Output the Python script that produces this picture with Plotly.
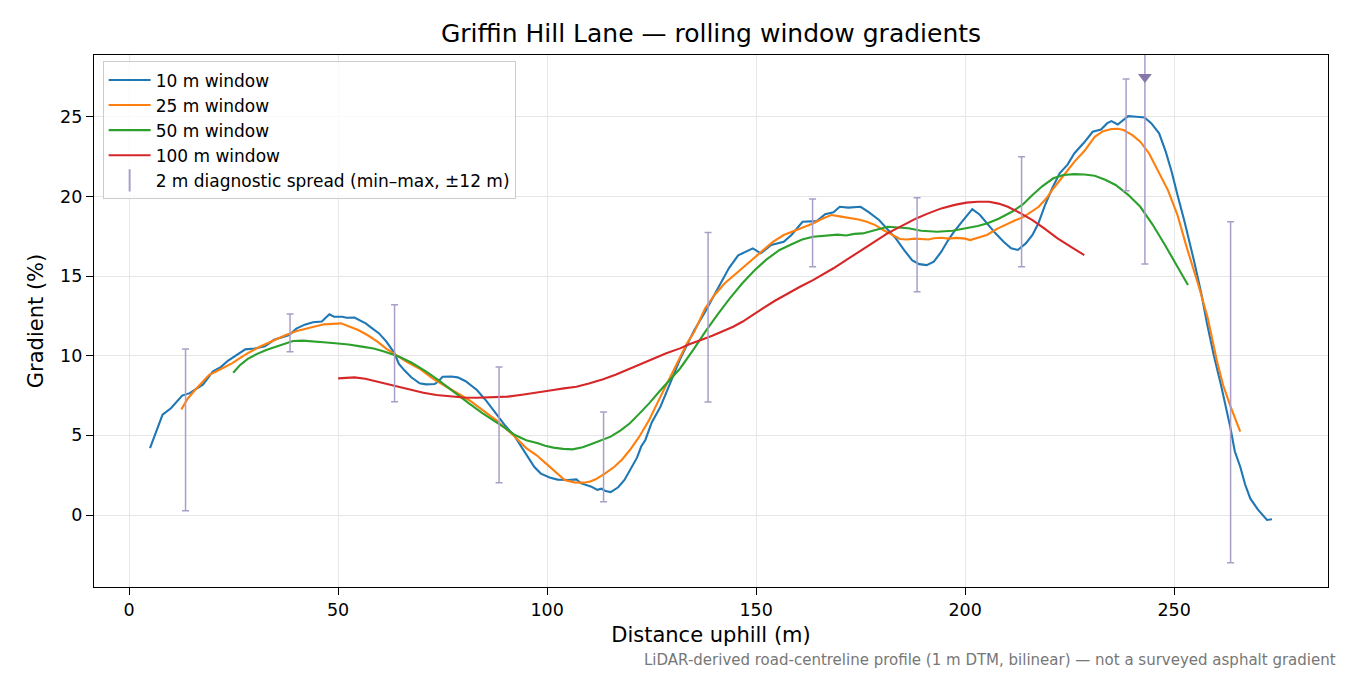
import plotly.graph_objects as go

# 10 m window
w10_x = [5, 6.5, 8, 10, 12.7, 14.5, 16, 17.7, 20, 22, 23.7, 26, 27.8, 30, 32.5, 34.7, 38.3, 40, 42, 44,
         46.1, 47.9, 49, 51, 52, 53.9, 55, 56.6, 58, 59.8, 61.5, 63.5, 64.5, 65.8, 67.5, 69.5, 71, 73.1, 74, 75,
         77, 78.6, 80.5, 83.2, 85.5, 87.8, 90, 92.3, 94.5, 96.9, 98.5, 100.6, 102.5, 105, 107, 108, 110.6, 112, 113, 114,
         115.2, 117, 118.5, 119.8, 121.5, 122.5, 123.5, 125, 127.1, 129, 131.7, 133.5, 135.2, 137.8, 139.5, 141.7, 143.5, 145.7, 147.5, 149.2,
         151.1, 153.6, 156.6, 158.5, 161.1, 164.5, 166.5, 168.5, 170, 172, 175, 177, 179.4, 181.5, 183.4, 185.5, 187.3, 189, 190.8, 192.5,
         194.3, 195.8, 197.3, 199.5, 201.7, 203.5, 205.2, 207.2, 209.2, 211, 212.6, 214.5, 216.1, 217.5, 219.1, 220.8, 222.6, 224.5, 226.1, 228.5,
         230.5, 232.5, 234, 235, 236.5, 237.5, 239, 241, 242.9, 244.5, 246.4, 248, 249.4, 250.8, 252.5, 254.8, 256.5, 257.8, 259.5, 261.2,
         263.4, 264.5, 265.8, 267, 268.2, 270, 272.2, 273.4]
w10_y = [4.2, 5.3, 6.3, 6.7, 7.5, 7.65, 7.9, 8.2, 9.0, 9.3, 9.7, 10.1, 10.4, 10.45, 10.6, 11.0, 11.3, 11.7, 11.95, 12.1,
         12.15, 12.6, 12.45, 12.45, 12.38, 12.4, 12.25, 12.03, 11.75, 11.4, 10.9, 10.15, 9.5, 9.1, 8.65, 8.27, 8.2, 8.22, 8.4, 8.68,
         8.7, 8.64, 8.4, 7.85, 7.15, 6.38, 5.6, 4.92, 4.0, 3.03, 2.6, 2.35, 2.22, 2.2, 2.24, 2.0, 1.78, 1.58, 1.65, 1.5,
         1.44, 1.74, 2.2, 2.82, 3.6, 4.3, 4.71, 5.8, 6.8, 8.0, 9.73, 10.7, 11.6, 12.76, 13.6, 14.65, 15.5, 16.3, 16.55, 16.74,
         16.43, 16.95, 17.16, 17.6, 18.41, 18.45, 18.88, 19.0, 19.35, 19.3, 19.35, 19.0, 18.52, 17.95, 17.37, 16.6, 16.0, 15.75, 15.69, 15.9,
         16.53, 17.2, 17.78, 18.5, 19.2, 18.85, 18.3, 17.7, 17.16, 16.75, 16.64, 17.05, 17.58, 18.3, 19.46, 20.5, 21.45, 22.0, 22.7, 23.4,
         24.06, 24.2, 24.6, 24.73, 24.52, 24.75, 25.04, 25.0, 24.96, 24.6, 23.96, 22.8, 21.55, 20.09, 18.4, 15.9, 13.9, 12.1, 10.0, 8.16,
         5.55, 4.0, 3.03, 1.9, 1.04, 0.35, -0.31, -0.27]

# 25 m window
w25_x = [12.5, 14, 15.4, 17, 19.1, 21.5, 24.6, 26.5, 28.3, 31.5, 34.7, 37.5, 40.1, 43, 46.6, 50.7, 52.5, 54.8, 57, 59.4,
         61.5, 63.9, 66.5, 69.4, 72.5, 75.9, 78.5, 81.3, 84.5, 87.8, 90, 92.3, 95, 97.5, 99.7, 102, 104.2, 106.5, 108.8, 110.3,
         111.6, 113.8, 116.1, 118, 119.8, 122, 124.4, 126.5, 129, 131.8, 133.5, 135.2, 137.8, 140, 142.5, 145.7, 148.5, 151.6, 154, 156.6,
         160, 163.6, 165.8, 168, 170, 172.5, 174.5, 176.5, 178.5, 180.4, 182.5, 184.4, 186, 188, 191.3, 192.5, 194.3, 196, 198, 200,
         201.2, 203, 205.2, 207.5, 210.2, 212, 214.1, 216, 217.6, 219.5, 221.1, 223.5, 226.1, 228.5, 231, 233, 235, 236.5, 237.9, 240,
         241.9, 244, 245.9, 248.5, 250.8, 253, 255.8, 258, 260.2, 261.7, 263.5, 265.8]
w25_y = [6.63, 7.3, 7.74, 8.2, 8.79, 9.1, 9.52, 9.85, 10.15, 10.6, 10.99, 11.3, 11.55, 11.75, 11.97, 12.03, 11.85, 11.61, 11.3, 10.88,
         10.45, 10.04, 9.6, 9.2, 8.6, 8.05, 7.65, 7.22, 6.6, 5.96, 5.45, 4.92, 4.2, 3.75, 3.24, 2.7, 2.2, 2.05, 2.03, 2.1,
         2.24, 2.6, 3.03, 3.5, 4.08, 4.9, 5.96, 7.1, 8.47, 9.9, 10.8, 11.5, 12.98, 13.8, 14.55, 15.27, 15.9, 16.64, 17.15, 17.58,
         17.95, 18.3, 18.6, 18.83, 18.75, 18.66, 18.55, 18.41, 18.2, 17.89, 17.6, 17.33, 17.3, 17.35, 17.3, 17.38, 17.41, 17.35, 17.4, 17.35,
         17.26, 17.4, 17.58, 17.95, 18.3, 18.5, 18.73, 19.05, 19.35, 19.9, 20.5, 21.3, 22.17, 22.85, 23.74, 24.1, 24.23, 24.25, 24.17, 23.85,
         23.44, 22.7, 21.76, 20.4, 18.83, 16.8, 14.44, 12.4, 9.7, 8.16, 6.8, 5.23]

# 50 m window
w50_x = [24.9, 26.5, 28.3, 30.5, 32.8, 36, 39.2, 41.5, 43.8, 46.5, 49.3, 52.5, 55.7, 58.5, 61.2, 64.5, 67.6, 70.8, 74, 77.5,
         81.3, 84.5, 87.8, 90, 92.3, 95, 97.8, 99.5, 101.5, 103.8, 106.1, 108.5, 110.6, 113, 115.2, 117.5, 119.8, 122, 124.4, 127,
         129.9, 131.8, 135.2, 137.8, 140.8, 143.7, 146.7, 149.7, 152.5, 155.6, 158.5, 161, 163.6, 167.5, 169.5, 171.5, 173.5, 175.5, 178.5, 181.4,
         184, 186.4, 189.5, 193.3, 197, 200.3, 203, 205.2, 208, 211.2, 213.8, 216.1, 218.5, 221.1, 223.5, 226.1, 228.5, 231, 233.5, 236,
         239, 241.9, 244.8, 247.8, 250.5, 253.3]
w50_y = [8.93, 9.4, 9.79, 10.1, 10.36, 10.65, 10.92, 10.95, 10.92, 10.85, 10.78, 10.7, 10.57, 10.45, 10.25, 9.95, 9.56, 9.05, 8.47, 7.75,
         7.01, 6.4, 5.86, 5.45, 5.02, 4.7, 4.5, 4.35, 4.23, 4.15, 4.12, 4.25, 4.46, 4.68, 4.92, 5.3, 5.76, 6.35, 7.01, 7.8,
         8.68, 9.2, 10.46, 11.5, 12.6, 13.6, 14.55, 15.38, 16.05, 16.64, 17.0, 17.3, 17.47, 17.55, 17.6, 17.55, 17.65, 17.68, 17.9, 18.1,
         18.05, 18.0, 17.85, 17.78, 17.85, 18.0, 18.15, 18.3, 18.6, 19.04, 19.5, 20.09, 20.65, 21.14, 21.35, 21.4, 21.38, 21.3, 21.05, 20.72,
         20.1, 19.35, 18.25, 16.95, 15.7, 14.44]

# 100 m window
w100_x = [50, 52, 53.9, 56.5, 59.4, 62, 64.9, 67.5, 70.4, 73.5, 76.8, 80, 83.2, 87, 90.5, 94, 96.9, 101.5, 104, 107,
          110, 113.4, 116.5, 119.8, 122.5, 125.3, 128.5, 131.8, 134, 136.8, 139.5, 142.7, 144.5, 146.7, 149, 151.6, 154.5, 157.6, 160.5, 163.6,
          166, 168.5, 171.5, 174.5, 178, 181.4, 185, 188.3, 191, 194.3, 197.5, 200.3, 203, 205.7, 208, 210.2, 213, 216.1, 219, 222.1,
          225.5, 228.5]
w100_y = [8.58, 8.62, 8.64, 8.55, 8.37, 8.2, 8.02, 7.85, 7.68, 7.53, 7.43, 7.38, 7.36, 7.38, 7.43, 7.55, 7.68, 7.85, 7.95, 8.05,
          8.25, 8.52, 8.82, 9.2, 9.5, 9.83, 10.15, 10.46, 10.72, 10.99, 11.25, 11.61, 11.82, 12.13, 12.55, 12.98, 13.45, 13.92, 14.33, 14.75,
          15.1, 15.49, 16.0, 16.53, 17.1, 17.68, 18.15, 18.62, 18.92, 19.25, 19.47, 19.61, 19.67, 19.67, 19.55, 19.35, 18.98, 18.52, 17.98, 17.37,
          16.8, 16.32]

# 2 m diagnostic spread (min-max within +-12 m)
spread_x = [13.5, 38.5, 63.5, 88.5, 113.5, 138.5, 163.5, 188.5, 213.5, 238.5, 243, 263.5]
spread_min = [0.27, 10.25, 7.11, 2.03, 0.84, 7.09, 15.59, 14.02, 15.59, 20.36, 15.76, -2.99]
spread_max = [10.42, 12.62, 13.2, 9.29, 6.47, 17.73, 19.84, 19.92, 22.49, 27.37, 31.0, 18.41]

# spread that runs off the top of the axis
clip_x = [243]
clip_y = [27.5]

FONT = "DejaVu Sans"
SPREAD_COL = "#aa9ec8"

fig = go.Figure()
series = [
    ("10 m window", w10_x, w10_y, "#1f77b4"),
    ("25 m window", w25_x, w25_y, "#ff7f0e"),
    ("50 m window", w50_x, w50_y, "#2ca02c"),
    ("100 m window", w100_x, w100_y, "#d62728"),
]
for name, xs, ys, col in series:
    fig.add_trace(go.Scatter(x=xs, y=ys, mode="lines", name=name,
                             line=dict(color=col, width=2.1)))

fig.add_trace(go.Scatter(
    x=spread_x, y=spread_min, mode="markers", showlegend=False,
    marker=dict(size=1, color="rgba(0,0,0,0)"),
    error_y=dict(type="data", symmetric=False,
                 array=[hi - lo for lo, hi in zip(spread_min, spread_max)],
                 arrayminus=[0] * len(spread_x),
                 color=SPREAD_COL, thickness=1.5, width=3.5)))

fig.add_trace(go.Scatter(
    x=clip_x, y=clip_y, mode="markers", showlegend=False,
    marker=dict(symbol="triangle-down", size=12, color="#8677aa")))

# legend entry for the spread bars
fig.add_trace(go.Scatter(
    x=[None], y=[None], mode="markers", name="2 m diagnostic spread (min–max, ±12 m)",
    marker=dict(symbol="line-ns", size=16, line=dict(color=SPREAD_COL, width=2))))

# page is shown with an 8 px body margin, so the figure is sized to fit
fig.update_layout(
    width=1342, height=667,
    margin=dict(l=86, r=22, t=47, b=88),
    paper_bgcolor="white", plot_bgcolor="white",
    font=dict(family=FONT, size=17.5, color="black"),
    title=dict(text="Griffin Hill Lane — rolling window gradients", x=0.5, xref="paper",
               y=1 - 25 / 667, yanchor="middle", font=dict(size=25)),
    legend=dict(x=0.007, y=0.988, xanchor="left", yanchor="top",
                bgcolor="rgba(255,255,255,0.8)", bordercolor="#cccccc", borderwidth=1,
                font=dict(size=17), tracegroupgap=0, itemwidth=42),
    showlegend=True,
)
fig.update_xaxes(range=[-8.4, 286.8], tickvals=[0, 50, 100, 150, 200, 250],
                 showgrid=True, gridcolor="#e6e6e6", gridwidth=1, zeroline=False,
                 showline=True, linecolor="black", linewidth=1.3, mirror=True,
                 ticks="outside", ticklen=7, tickcolor="black",
                 title=dict(text="Distance uphill (m)", standoff=8))
fig.update_yaxes(range=[-4.52, 28.88], tickvals=[0, 5, 10, 15, 20, 25],
                 showgrid=True, gridcolor="#e6e6e6", gridwidth=1, zeroline=False,
                 showline=True, linecolor="black", linewidth=1.3, mirror=True,
                 ticks="outside", ticklen=7, tickcolor="black",
                 title=dict(text="Gradient (%)", standoff=10))

fig.add_annotation(text="LiDAR-derived road-centreline profile (1 m DTM, bilinear) — not a surveyed asphalt gradient",
                   xref="paper", yref="paper", x=(1330 - 86) / 1234, y=-(652 - 579) / 532,
                   xanchor="right", yanchor="middle", showarrow=False,
                   font=dict(size=15, color="#777777"))

fig.write_html("out.html")
